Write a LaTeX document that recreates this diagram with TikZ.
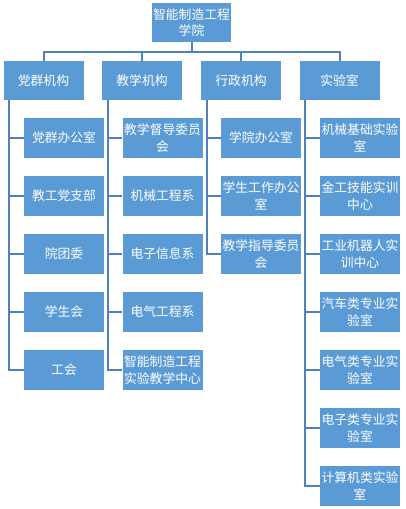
\documentclass[tikz,border=0pt]{standalone}
\usepackage{fontspec}
\newfontfamily\cjk{Noto Sans CJK SC}
\definecolor{boxblue}{HTML}{5B9BD5}
\definecolor{linkblue}{HTML}{4F81BD}
\tikzset{
  box/.style={fill=boxblue, text=white, minimum width=80pt, minimum height=40pt, inner sep=0pt, align=center,
    font=\cjk\fontsize{12.8}{16.5}\selectfont},
  conn/.style={draw=linkblue, line width=2pt}
}
\begin{document}
\begin{tikzpicture}[x=1pt,y=-1pt]
\useasboundingbox (0,0) rectangle (406,509);
\node[box, minimum width=79pt, minimum height=39pt] (top) at (191.5,22.5) {智能制造工程\\学院};
\node[box, minimum height=39pt] (a) at (43.5,80.5) {党群机构};
\node[box, minimum height=39pt] (b) at (142,80.5) {教学机构};
\node[box, minimum height=39pt] (c) at (241,80.5) {行政机构};
\node[box, minimum height=39pt] (d) at (339.5,80.5) {实验室};
\coordinate (bus) at (191.5,52);
\draw[conn] (top.south) -- (bus);
\draw[conn] (bus) -| (a.north);
\draw[conn] (bus) -| (b.north);
\draw[conn] (bus) -| (c.north);
\draw[conn] (bus) -| (d.north);
% column 1
\node[box] (a1) at (64,138) {党群办公室};
\node[box] (a2) at (64,196) {教工党支部};
\node[box] (a3) at (64,254) {院团委};
\node[box] (a4) at (64,312) {学生会};
\node[box] (a5) at (64,370) {工会};
% column 2
\node[box] (b1) at (162.5,138) {教学督导委员\\会};
\node[box] (b2) at (162.5,196) {机械工程系};
\node[box] (b3) at (162.5,254) {电子信息系};
\node[box] (b4) at (162.5,312) {电气工程系};
\node[box] (b5) at (162.5,370) {智能制造工程\\实验教学中心};
% column 3
\node[box] (c1) at (261,138) {学院办公室};
\node[box] (c2) at (261,196) {学生工作办公\\室};
\node[box] (c3) at (261,254) {教学指导委员\\会};
% column 4
\node[box] (d1) at (360,138) {机械基础实验\\室};
\node[box] (d2) at (360,196) {金工技能实训\\中心};
\node[box] (d3) at (360,254) {工业机器人实\\训中心};
\node[box] (d4) at (360,312) {汽车类专业实\\验室};
\node[box] (d5) at (360,370) {电气类专业实\\验室};
\node[box] (d6) at (360,428) {电子类专业实\\验室};
\node[box] (d7) at (360,486) {计算机类实验\\室};
\foreach \c in {a1,a2,a3,a4,a5} \draw[conn] ([xshift=6pt]a.south west) |- (\c.west);
\foreach \c in {b1,b2,b3,b4,b5} \draw[conn] ([xshift=6pt]b.south west) |- (\c.west);
\foreach \c in {c1,c2,c3} \draw[conn] ([xshift=6pt]c.south west) |- (\c.west);
\foreach \c in {d1,d2,d3,d4,d5,d6,d7} \draw[conn] ([xshift=6pt]d.south west) |- (\c.west);
\end{tikzpicture}
\end{document}
